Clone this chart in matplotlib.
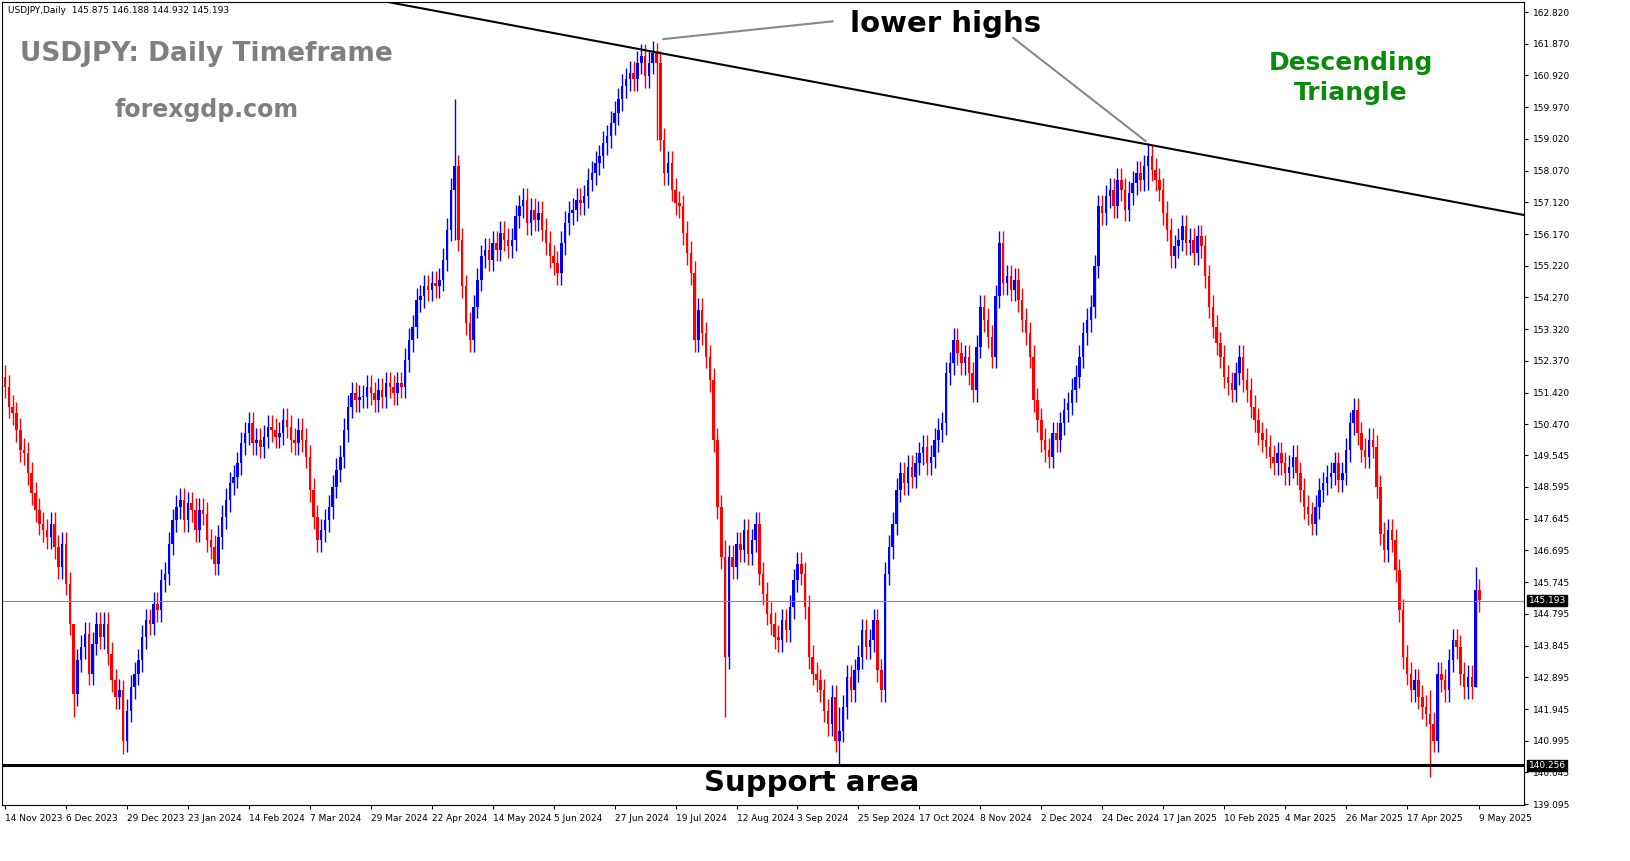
import numpy as np
import pandas as pd
import matplotlib
matplotlib.use("Agg")
import matplotlib.pyplot as plt

# daily closes, USDJPY, 14 Nov 2023 .. 9 May 2025
closes = [
    151.6, 151.0, 150.8, 150.3, 149.7, 149.6, 149.0, 148.4, 147.9, 147.5,
    147.3, 147.1, 147.5, 146.8, 146.2, 146.9, 145.7, 144.5, 142.4, 143.4,
    143.8, 144.2, 143.0, 143.9, 144.5, 144.1, 144.5, 143.6, 142.8, 142.3,
    142.5, 141.0, 141.9, 142.6, 143.0, 143.4, 144.1, 144.6, 144.5, 145.1,
    144.9, 145.8, 146.0, 146.9, 147.6, 148.0, 148.2, 147.6, 148.1, 147.9,
    147.3, 147.9, 147.8, 147.0, 146.8, 146.3, 147.1, 147.7, 148.2, 148.7,
    148.9, 149.3, 149.9, 150.2, 150.5, 149.9, 150.0, 149.8, 150.1, 150.4,
    150.3, 150.1, 150.2, 150.6, 150.4, 150.0, 149.9, 150.3, 150.0, 149.5,
    148.5, 147.7, 147.0, 147.3, 147.6, 148.0, 148.6, 149.1, 149.5, 150.3,
    151.0, 151.4, 151.2, 151.3, 151.3, 151.6, 151.4, 151.2, 151.5, 151.3,
    151.7, 151.6, 151.4, 151.7, 151.6, 152.4, 153.0, 153.4, 154.2, 154.3,
    154.6, 154.5, 154.7, 154.6, 154.8, 155.4, 156.3, 157.5, 158.2, 156.0,
    154.6, 153.5, 153.0, 154.0, 154.8, 155.5, 155.7, 155.4, 155.9, 155.7,
    156.2, 156.0, 155.8, 156.0, 156.7, 157.0, 157.2, 156.5, 156.9, 156.6,
    156.8, 156.3, 155.9, 155.5, 155.3, 155.0, 155.9, 156.5, 156.8, 156.9,
    157.2, 157.1, 157.3, 157.8, 158.0, 158.3, 158.5, 158.9, 159.1, 159.5,
    159.8, 160.2, 160.6, 160.8, 161.0, 160.8, 161.3, 161.5, 160.9, 161.3,
    161.6, 161.3, 159.0, 158.0, 158.3, 157.5, 157.1, 157.0, 156.2, 155.6,
    155.0, 153.0, 153.9, 153.2, 152.5, 151.8, 150.0, 148.0, 146.5, 143.5,
    146.5, 146.2, 146.9, 146.7, 147.3, 146.6, 147.0, 147.5, 146.0, 145.4,
    144.8, 144.5, 144.1, 144.0, 144.6, 144.3, 145.0, 145.8, 146.3, 146.0,
    145.0, 143.5, 143.0, 142.8, 142.5, 141.9, 141.5, 142.3, 141.0, 141.3,
    142.0, 142.9, 142.5, 143.1, 143.5, 144.3, 143.8, 144.0, 144.6, 143.1,
    142.5, 146.0, 146.8, 147.5, 148.5, 149.0, 148.7, 149.2, 148.9, 149.3,
    149.6, 149.8, 149.3, 149.5, 150.0, 150.3, 150.5, 152.0, 152.3, 153.0,
    152.6, 152.3, 152.5, 152.0, 151.5, 152.8, 154.0, 153.6, 153.1, 152.5,
    154.3, 155.9, 154.7, 154.9, 154.5, 154.8, 154.2, 153.6, 153.2, 152.5,
    151.2, 150.6, 150.0, 149.7, 149.5, 150.2, 150.0, 150.5, 150.9, 151.1,
    151.5, 151.9, 152.5, 153.2, 153.6, 154.0, 155.2, 157.0, 156.8, 157.3,
    157.5, 157.0, 157.8, 157.5, 156.9, 157.4, 157.7, 158.0, 157.8, 158.2,
    158.5, 158.1, 157.8, 157.5, 156.8, 156.3, 155.5, 155.8, 156.0, 156.4,
    155.9, 156.0, 155.6, 156.1, 155.8, 154.9, 154.0, 153.4, 152.9, 152.5,
    151.9, 151.7, 151.5, 152.0, 152.5, 151.8, 151.5, 151.0, 150.6, 150.2,
    150.0, 149.8, 149.5, 149.3, 149.6, 149.3, 149.0, 149.2, 149.5, 149.0,
    148.5, 148.0, 147.8, 147.5, 148.0, 148.5, 148.7, 148.9, 149.0, 149.3,
    148.8, 149.0, 149.7, 150.5, 150.9, 150.2, 149.7, 149.5, 150.0, 149.8,
    148.6, 147.2, 146.7, 147.3, 147.0, 146.1, 144.9, 143.5, 143.0, 142.5,
    142.8, 142.3, 142.0, 141.8, 141.5, 141.0, 143.0, 142.8, 142.5, 143.4,
    144.0, 143.8, 143.0, 142.6, 142.9, 142.6, 145.5, 145.2,
]
first_open = 151.9
wick = 0.35
# notable wicks: bar -> (high, low)
spikes = {18: (144.0, 141.7), 31: (142.8, 140.6), 118: (160.2, 156.0),
          171: (161.9, 159.0), 189: (147.0, 141.7), 219: (142.0, 140.3),
          300: (158.9, 157.5), 374: (142.5, 139.9), 386: (146.2, 142.6)}

date_labels = ["14 Nov 2023", "6 Dec 2023", "29 Dec 2023", "23 Jan 2024", "14 Feb 2024",
               "7 Mar 2024", "29 Mar 2024", "22 Apr 2024", "14 May 2024", "5 Jun 2024",
               "27 Jun 2024", "19 Jul 2024", "12 Aug 2024", "3 Sep 2024", "25 Sep 2024",
               "17 Oct 2024", "8 Nov 2024", "2 Dec 2024", "24 Dec 2024", "17 Jan 2025",
               "10 Feb 2025", "4 Mar 2025", "26 Mar 2025", "17 Apr 2025", "9 May 2025"]

yticks = [162.820, 161.870, 160.920, 159.970, 159.020, 158.070, 157.120, 156.170,
          155.220, 154.270, 153.320, 152.370, 151.420, 150.470, 149.545, 148.595,
          147.645, 146.695, 145.745, 144.795, 143.845, 142.895, 141.945, 140.995,
          140.045, 139.095]
last_price = 145.193
support = 140.256
trend = [(100.5, 163.12), (398.7, 156.74)]

fig = plt.figure(figsize=(16.31, 8.61), dpi=100)
ax = fig.add_axes([2 / 1631, 1 - 805 / 861, 1522 / 1631, 803 / 861])
opens = [first_open] + closes[:-1]
for i, (o, c) in enumerate(zip(opens, closes)):
    hi, lo = max(o, c) + wick, min(o, c) - wick
    if i in spikes:
        hi, lo = spikes[i]
    col = "#0000ff" if c >= o else "#ff0000"
    ax.vlines(i, lo, hi, color=col, lw=1)
    ax.bar(i, max(abs(c - o), 0.03), bottom=min(o, c), width=0.65, color=col, lw=0)

ax.set_xlim(-0.8, 398.7)
ax.set_ylim(139.07, 163.12)
ax.axhline(last_price, color="#888888", lw=0.8)
ax.axhline(support, color="black", lw=2.2)
ax.plot([p[0] for p in trend], [p[1] for p in trend], color="black", lw=1.5)

ax.yaxis.tick_right()
ax.set_yticks(yticks)
ax.set_yticklabels([f"{v:.3f}" for v in yticks], fontsize=6.5)
xt = [16 * k for k in range(len(date_labels) - 1)] + [len(closes) - 1]
ax.set_xticks(xt)
ax.set_xticklabels(date_labels, fontsize=6.5, ha="left")
ax.tick_params(length=3)
for lab_y in (last_price, support):
    ax.text(1.003, lab_y, f"{lab_y:.3f}", transform=ax.get_yaxis_transform(),
            fontsize=6.5, color="white", va="center",
            bbox=dict(boxstyle="square,pad=0.15", fc="black", ec="black"))

ax.text(0.004, 0.995, "USDJPY,Daily  145.875 146.188 144.932 145.193", transform=ax.transAxes,
        fontsize=6.5, va="top")
ax.text(0.012, 0.935, "USDJPY: Daily Timeframe", transform=ax.transAxes,
        fontsize=19, weight="bold", color="#7f7f7f", va="center")
ax.text(0.074, 0.866, "forexgdp.com", transform=ax.transAxes,
        fontsize=17, weight="bold", color="#7f7f7f", va="center")
ax.text(0.886, 0.905, "Descending\nTriangle", transform=ax.transAxes, fontsize=18,
        weight="bold", color="#0a8a0a", ha="center", va="center", linespacing=1.3)
ax.text(0.557, 0.973, "lower highs", transform=ax.transAxes,
        fontsize=21, weight="bold", va="center")
ax.text(0.461, 0.027, "Support area", transform=ax.transAxes,
        fontsize=21, weight="bold", va="center")
ax.annotate("", xy=(172, 162.0), xytext=(218, 162.55),
            arrowprops=dict(arrowstyle="-", color="#888888", lw=1.5))
ax.annotate("", xy=(300, 158.9), xytext=(264, 162.1),
            arrowprops=dict(arrowstyle="-", color="#888888", lw=1.5))

fig.savefig("out.png", dpi=100)
